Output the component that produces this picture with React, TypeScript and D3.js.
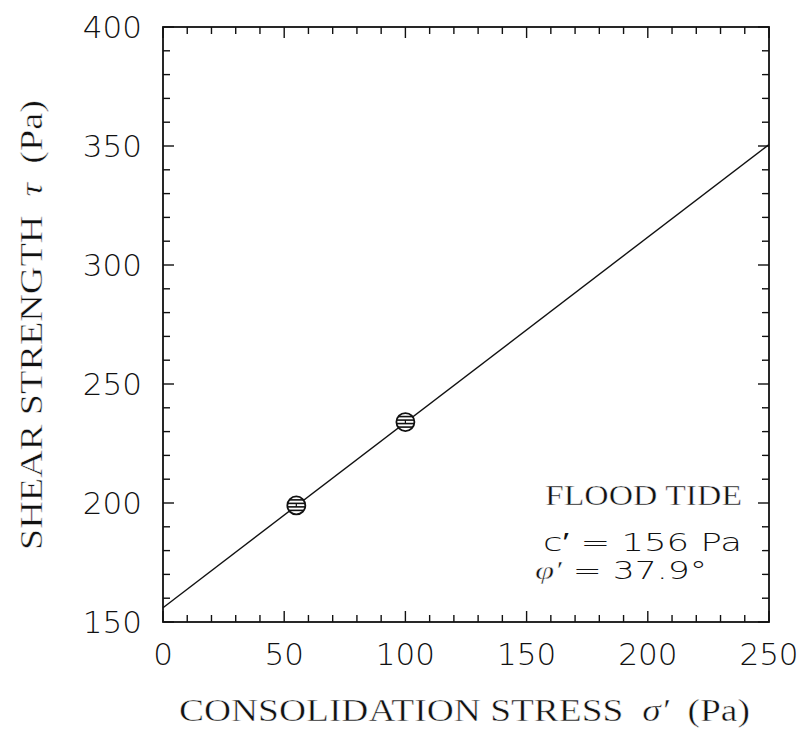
import React from 'react';
import * as d3 from 'd3';

// measured points (consolidation stress, shear strength)
const stressPa = [55, 100];
const strengthPa = [199, 234];
// fitted Mohr-Coulomb line end points
const fitStress = [0, 250];
const fitStrength = [156, 350.6];

const xTicks = [0, 50, 100, 150, 200, 250];
const yTicks = [150, 200, 250, 300, 350, 400];
const noteLines = ['FLOOD TIDE', 'c′ = 156 Pa', 'φ′ = 37.9°'];

const settings = {
  margin: { top: 27, right: 36, bottom: 122, left: 163 },
  width: 606,
  height: 595
};

const numFont = '"DejaVu Sans", "Liberation Sans", sans-serif';
const textFont = '"Liberation Serif", "DejaVu Serif", serif';
// thin the serif glyphs a little so they look like the plotter lettering
const thin = { stroke: '#fff', strokeWidth: 0.45 };

const Ticks = ({ xScale, yScale, width, height }) => {
  const minorX = d3.range(0, 251, 10);
  const minorY = d3.range(150, 401, 10);
  const len = (v) => (v % 50 === 0 ? 11 : 7);
  return (
    <g stroke="#111" strokeWidth={1.4}>
      {minorX.map((v) => (
        <g key={'x' + v}>
          <line x1={xScale(v)} x2={xScale(v)} y1={height} y2={height - len(v)} />
          <line x1={xScale(v)} x2={xScale(v)} y1={0} y2={len(v)} />
        </g>
      ))}
      {minorY.map((v) => (
        <g key={'y' + v}>
          <line x1={0} x2={len(v)} y1={yScale(v)} y2={yScale(v)} />
          <line x1={width} x2={width - len(v)} y1={yScale(v)} y2={yScale(v)} />
        </g>
      ))}
    </g>
  );
};

const Marker = ({ cx, cy }) => {
  const r = 9;
  const rows = [-5.5, -2, 1.5, 5];
  return (
    <g>
      <circle cx={cx} cy={cy} r={r} fill="#fff" stroke="#111" strokeWidth={1.8} />
      {rows.map((dy) => {
        const half = Math.sqrt(r * r - dy * dy);
        return <line key={dy} x1={cx - half} x2={cx + half} y1={cy + dy} y2={cy + dy} stroke="#111" strokeWidth={1.6} />;
      })}
      <line x1={cx} x2={cx} y1={cy - 2} y2={cy + 1.5} stroke="#111" strokeWidth={1.2} />
    </g>
  );
};

export default function App() {
  const { margin, width, height } = settings;
  const xScale = d3.scaleLinear().domain([0, 250]).range([0, width]);
  const yScale = d3.scaleLinear().domain([150, 400]).range([height, 0]);

  const line = d3.line<number>()
    .x((d, i) => xScale(fitStress[i]))
    .y((d) => yScale(d));

  return (
    <svg width={805} height={744} style={{ position: 'absolute', left: 0, top: 0, background: '#fff' }}>
      <g transform={`translate(${margin.left},${margin.top})`}>
        <path d={line(fitStrength) || ''} fill="none" stroke="#111" strokeWidth={1.4} />
        {stressPa.map((s, i) => (
          <Marker key={i} cx={xScale(s)} cy={yScale(strengthPa[i])} />
        ))}
        <Ticks xScale={xScale} yScale={yScale} width={width} height={height} />
        <rect x={0} y={0} width={width} height={height} fill="none" stroke="#111" strokeWidth={1.8} />

        {xTicks.map((v) => (
          <text key={v} x={xScale(v)} y={height + 43} textAnchor="middle"
            fontFamily={numFont} fontWeight={200} fontSize={31} fill="#111">{v}</text>
        ))}
        {yTicks.map((v) => (
          <text key={v} x={-21} y={yScale(v) + 11} textAnchor="end"
            fontFamily={numFont} fontWeight={200} fontSize={31} fill="#111">{v}</text>
        ))}

        <g fill="#111">
          <text x={382} y={478} fontFamily={textFont} fontSize={30} {...thin} xmlSpace="preserve"
            textLength={197} lengthAdjust="spacingAndGlyphs">{noteLines[0]}</text>
          <text x={380} y={524} fontFamily={numFont} fontWeight={200} fontSize={25}
            textLength={199} lengthAdjust="spacingAndGlyphs">{noteLines[1]}</text>
          <text x={372} y={552} fontFamily={numFont} fontWeight={200} fontSize={25}
            textLength={172} lengthAdjust="spacingAndGlyphs">
            <tspan fontFamily={textFont} fontStyle="italic" {...thin}>{noteLines[2].slice(0, 2)}</tspan>
            {noteLines[2].slice(2)}
          </text>
        </g>
      </g>

      <text x={179} y={721} fontFamily={textFont} fontSize={31} fill="#111" {...thin} xmlSpace="preserve"
        textLength={571} lengthAdjust="spacingAndGlyphs">
        {'CONSOLIDATION STRESS  '}<tspan fontStyle="italic">σ′</tspan>{'  (Pa)'}
      </text>
      <text transform="translate(42,550) rotate(-90)" fontFamily={textFont} fontSize={31} fill="#111" {...thin}
        xmlSpace="preserve" textLength={450} lengthAdjust="spacingAndGlyphs">
        {'SHEAR STRENGTH  '}<tspan fontStyle="italic">τ</tspan>{'  (Pa)'}
      </text>
    </svg>
  );
}
